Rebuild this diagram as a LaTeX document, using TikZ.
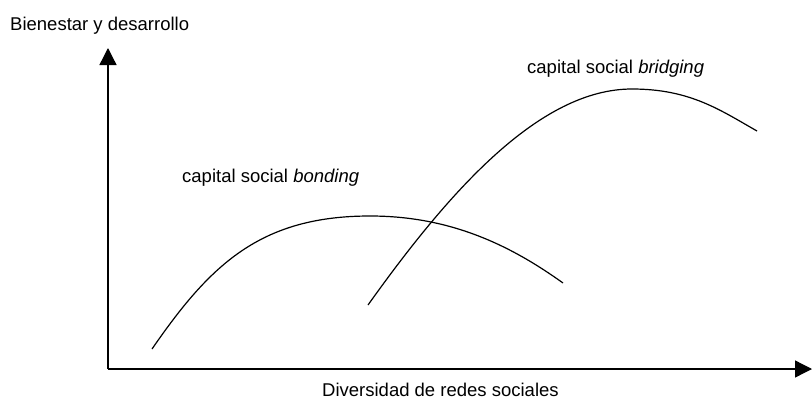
\documentclass[tikz,border=0pt]{standalone}
\usepackage{fontspec}
\setmainfont{Liberation Sans}
\usetikzlibrary{arrows.meta,positioning}

\begin{document}
\begin{tikzpicture}[x=1pt,y=-1pt,
	axis/.style={line width=1.3pt,-{Triangle[length=17pt,width=17pt]}},
	curve/.style={line width=1.2pt},
	every node/.style={font=\fontsize{18.5}{22}\selectfont,inner sep=0pt}]

\useasboundingbox (0,0) rectangle (812,402);

% Axes
\coordinate (origin) at (108,369);
\coordinate (ytop) at (108,48);
\coordinate (xend) at (812,369);
\draw[axis] (origin) -- (ytop);
\draw[axis] (origin) -- (xend);

% Labels
\node[anchor=base west] (ylabel) at (10,30) {Bienestar y desarrollo};
\node[anchor=base west] (xlabel) at (322,396) {Diversidad de redes sociales};
\node[anchor=base west] (bondlabel) at (182,182) {capital social \textit{bonding}};
\node[anchor=base west] (bridlabel) at (527,73) {capital social \textit{bridging}};

% Curves
\coordinate (bond1) at (152,349);
\coordinate (bondtop) at (370,216);
\coordinate (bond2) at (563,283);
\draw[curve] (bond1) .. controls (210,265) and (260,216) .. (bondtop)
	.. controls (450,216) and (510,245) .. (bond2);

\coordinate (brid1) at (368,305);
\coordinate (bridtop) at (632,89);
\coordinate (brid2) at (757,131);
\draw[curve] (brid1) .. controls (450,190) and (540,89) .. (bridtop)
	.. controls (690,89) and (720,110) .. (brid2);

\end{tikzpicture}
\end{document}
